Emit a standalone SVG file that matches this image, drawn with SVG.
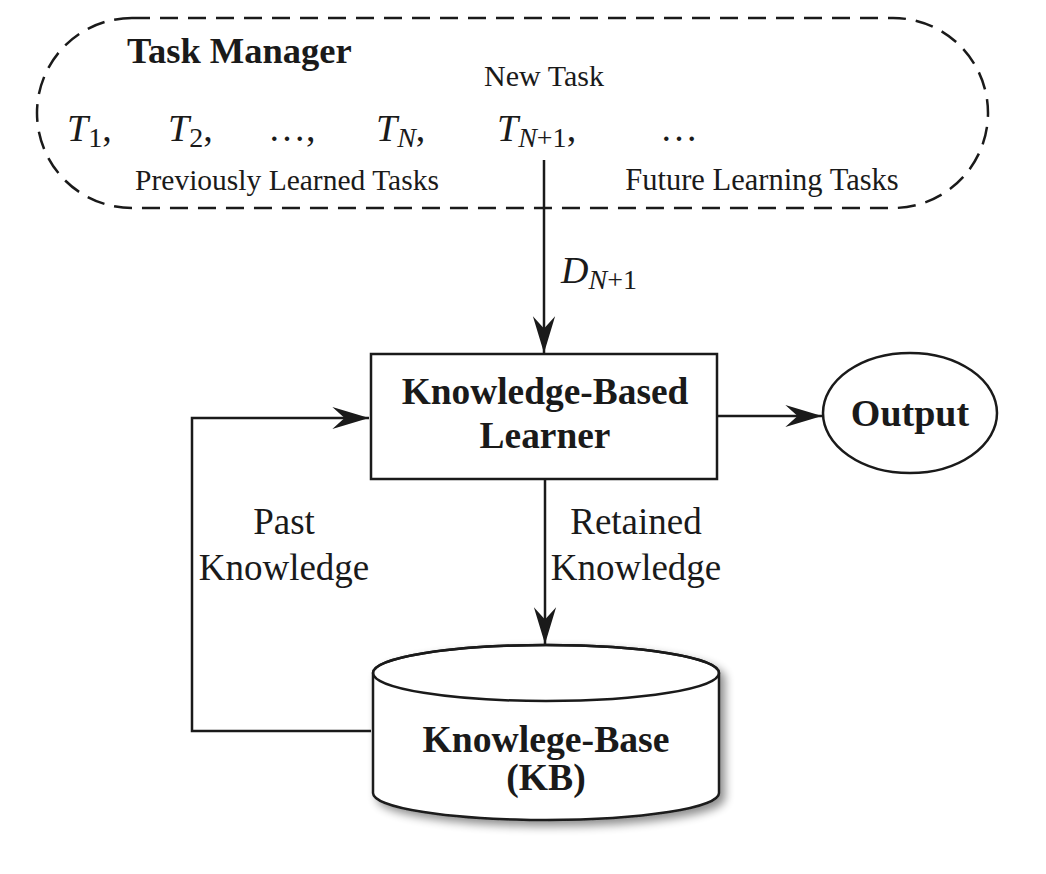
<svg xmlns="http://www.w3.org/2000/svg" width="1046" height="874" viewBox="0 0 1046 874">
<style>
.ln{fill:none;stroke:#1a1a1a;stroke-width:2.5}
.t{font-family:"Liberation Serif","Times New Roman",serif;fill:#1a1a1a}
.b{font-weight:bold}
.i{font-style:italic}
</style>
<defs>
<marker id="ah" markerUnits="userSpaceOnUse" markerWidth="40" markerHeight="30" viewBox="-34 -12 36 24" refX="0" refY="0" orient="auto">
<path d="M0,0 L-33,-10 L-22,0 L-33,10 Z" fill="#1a1a1a"/>
</marker>
<filter id="sh" x="-10%" y="-10%" width="130%" height="140%">
<feGaussianBlur in="SourceAlpha" stdDeviation="5"/>
<feOffset dx="5" dy="5" result="o"/>
<feComponentTransfer><feFuncA type="linear" slope="0.45"/></feComponentTransfer>
<feMerge><feMergeNode/><feMergeNode in="SourceGraphic"/></feMerge>
</filter>
</defs>
<rect width="1046" height="874" fill="#fff"/>

<g id="task-manager">
<rect x="37" y="18" width="951" height="190" rx="95" ry="95" class="ln" stroke-dasharray="18 10"/>
<text class="t b" x="127" y="63" font-size="36.5">Task Manager</text>
<text class="t" x="544" y="86" font-size="30" text-anchor="middle">New Task</text>
<text class="t" font-size="38" y="141"><tspan x="67" class="i">T</tspan><tspan font-size="28" dy="6">1</tspan><tspan dy="-6">,</tspan></text>
<text class="t" font-size="38" y="141"><tspan x="168" class="i">T</tspan><tspan font-size="28" dy="6">2</tspan><tspan dy="-6">,</tspan></text>
<text class="t" font-size="38" y="141" x="268">…,</text>
<text class="t" font-size="38" y="141"><tspan x="376" class="i">T</tspan><tspan font-size="28" dy="6" class="i">N</tspan><tspan dy="-6">,</tspan></text>
<text class="t" font-size="38" y="141"><tspan x="497" class="i">T</tspan><tspan font-size="28" dy="6" class="i">N</tspan><tspan font-size="28">+1</tspan><tspan dy="-6">,</tspan></text>
<text class="t" font-size="38" y="141" x="660">…</text>
<text class="t" x="287" y="190" font-size="29.5" text-anchor="middle">Previously Learned Tasks</text>
<text class="t" x="762" y="190" font-size="30.5" text-anchor="middle">Future Learning Tasks</text>
</g>

<g id="learner">
<rect x="371" y="354" width="346" height="125" class="ln"/>
<text class="t b" x="545" y="404" font-size="37.4" text-anchor="middle">Knowledge-Based</text>
<text class="t b" x="545" y="448" font-size="37.4" text-anchor="middle">Learner</text>
</g>

<g id="output">
<ellipse cx="910" cy="413" rx="87" ry="60" class="ln" stroke-width="2.2"/>
<text class="t b" x="910" y="426" font-size="38" text-anchor="middle">Output</text>
</g>

<g id="kb">
<path d="M373,673 L373,793 A173,27 0 0 0 719,793 L719,673 A173,28 0 0 0 373,673 Z" fill="#fff" stroke="#1a1a1a" stroke-width="2.5" filter="url(#sh)"/>
<ellipse cx="546" cy="673" rx="173" ry="28" class="ln"/>
<text class="t b" x="546" y="752" font-size="37.7" text-anchor="middle">Knowlege-Base</text>
<text class="t b" x="546" y="790" font-size="37.7" text-anchor="middle">(KB)</text>
</g>

<g id="connectors">
<line x1="544" y1="160" x2="544" y2="353" class="ln" marker-end="url(#ah)"/>
<text class="t" font-size="38" y="283"><tspan x="561" class="i">D</tspan><tspan font-size="28" dy="6" class="i">N</tspan><tspan font-size="28">+1</tspan></text>
<line x1="717" y1="416" x2="822" y2="416" class="ln" marker-end="url(#ah)"/>
<line x1="545" y1="479" x2="545" y2="644" class="ln" marker-end="url(#ah)"/>
<text class="t" x="636" y="534" font-size="37" text-anchor="middle">Retained</text>
<text class="t" x="636" y="580" font-size="37" text-anchor="middle">Knowledge</text>
<polyline points="371,731 192,731 192,418 369,418" class="ln" marker-end="url(#ah)"/>
<text class="t" x="284" y="534" font-size="37" text-anchor="middle">Past</text>
<text class="t" x="284" y="580" font-size="37" text-anchor="middle">Knowledge</text>
</g>
</svg>
